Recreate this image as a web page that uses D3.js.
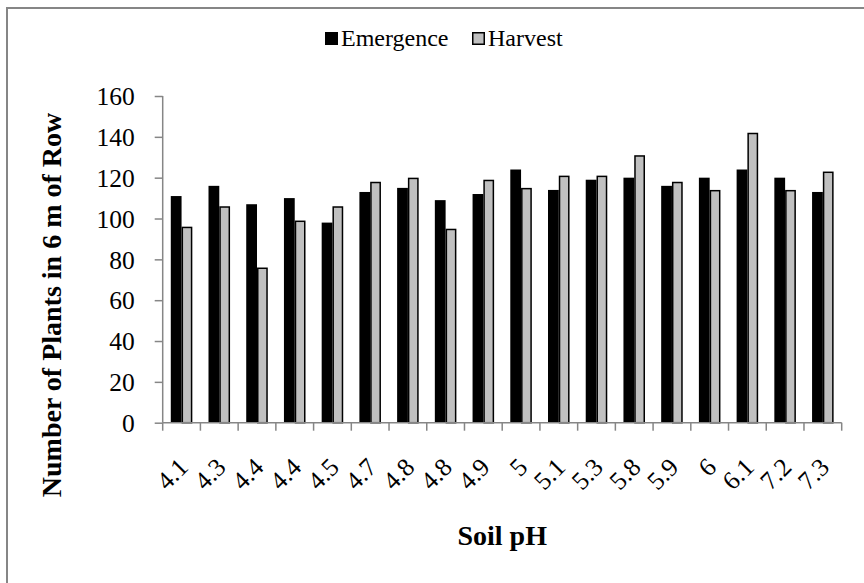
<!DOCTYPE html>
<html><head><meta charset="utf-8">
<script src="https://cdn.jsdelivr.net/npm/d3@7"></script>
<style>body{margin:0;background:#fff} svg{display:block} svg text{font-family:'Liberation Serif','Times New Roman',serif !important}</style>
</head><body><svg id="c" width="864" height="583"></svg>
<script>
const categories = ["4.1","4.3","4.4","4.4","4.5","4.7","4.8","4.8","4.9","5","5.1","5.3","5.8","5.9","6","6.1","7.2","7.3"];
const emergence = [111,116,107,110,98,113,115,109,112,124,114,119,120,116,120,124,120,113];
const harvest   = [96,106,76,99,106,118,120,95,119,115,121,121,131,118,114,142,114,123];
const yTicks = [0,20,40,60,80,100,120,140,160];
const seriesNames = ["Emergence","Harvest"];
const seriesColors = ["#000000","#c0c0c0"];
const xTitle = "Soil pH";
const yTitle = "Number of Plants in 6 m of Row";

const FONT = "'Liberation Serif','Times New Roman',serif";
const AXIS = "#868686";
const svg = d3.select("#c");
const L = 162.7, R = 841.7, T = 96, B = 422.7;

// frame
svg.append("rect").attr("x",7).attr("y",8).attr("width",900).attr("height",620)
  .attr("fill","none").attr("stroke",AXIS).attr("stroke-width",2);

const x = d3.scaleBand().domain(d3.range(categories.length)).range([L,R])
  .paddingInner(1.5/3.5).paddingOuter(0.75/3.5);
const xs = d3.scaleBand().domain([0,1]).range([0,x.bandwidth()]);
const y = d3.scaleLinear().domain([0,160]).range([B,T]);
const step = x.step();

// bars
const series = [emergence, harvest];
series.forEach((vals, si) => {
  svg.append("g").selectAll("rect").data(vals).join("rect")
    .attr("x",(d,i)=>x(i)+xs(si)+(si?0.75:0))
    .attr("y",d=>y(d)+(si?0.75:0))
    .attr("width",xs.bandwidth()-(si?1.5:0))
    .attr("height",d=>B-y(d)-(si?0.75:0))
    .attr("fill",seriesColors[si])
    .attr("stroke",si?"#000":"none")
    .attr("stroke-width",si?1.5:0);
});

// y axis
const yAxis = d3.axisLeft(y).tickValues(yTicks).tickSize(8).tickPadding(20);
const gy = svg.append("g").attr("transform",`translate(${L},0)`).call(yAxis);
gy.attr("font-family",FONT);
gy.select(".domain").attr("stroke",AXIS).attr("stroke-width",1.5).attr("d",`M0,${T}V${B}`);
gy.selectAll(".tick line").attr("stroke",AXIS).attr("stroke-width",1.5);
gy.selectAll(".tick text").style("font-family",FONT).attr("font-size",25.5).attr("fill","#000").attr("dy","0.34em");

// x axis: boundary ticks
const bounds = d3.range(categories.length+1).map(i=>L+i*step);
const gx = svg.append("g");
gx.append("line").attr("x1",L).attr("x2",R).attr("y1",B).attr("y2",B).attr("stroke",AXIS).attr("stroke-width",1.5);
gx.selectAll("line.t").data(bounds).join("line").attr("class","t")
  .attr("x1",d=>d).attr("x2",d=>d).attr("y1",B).attr("y2",B+8).attr("stroke",AXIS).attr("stroke-width",1.5);
gx.selectAll("text").data(categories).join("text")
  .attr("transform",(d,i)=>`translate(${x(i)+x.bandwidth()/2+8},${B+46}) rotate(-45)`)
  .attr("text-anchor","end").style("font-family",FONT).attr("font-size",25.5).text(d=>d);

// titles
svg.append("text").attr("x",(L+R)/2).attr("y",545).attr("text-anchor","middle")
  .style("font-family",FONT).attr("font-weight","bold").attr("font-size",28).text(xTitle);
svg.append("text").attr("transform","translate(61,305) rotate(-90)").attr("text-anchor","middle")
  .style("font-family",FONT).attr("font-weight","bold").attr("font-size",28).text(yTitle);

// legend
const legX = [325, 472];
seriesNames.forEach((n,i)=>{
  svg.append("rect").attr("x",legX[i]+(i?0.75:0)).attr("y",32+(i?0.75:0))
    .attr("width",13-(i?1.5:0)).attr("height",13-(i?1.5:0))
    .attr("fill",seriesColors[i]).attr("stroke",i?"#000":"none").attr("stroke-width",1.5);
  svg.append("text").attr("x",legX[i]+16).attr("y",46).style("font-family",FONT).attr("font-size",24).text(n);
});
</script></body></html>
